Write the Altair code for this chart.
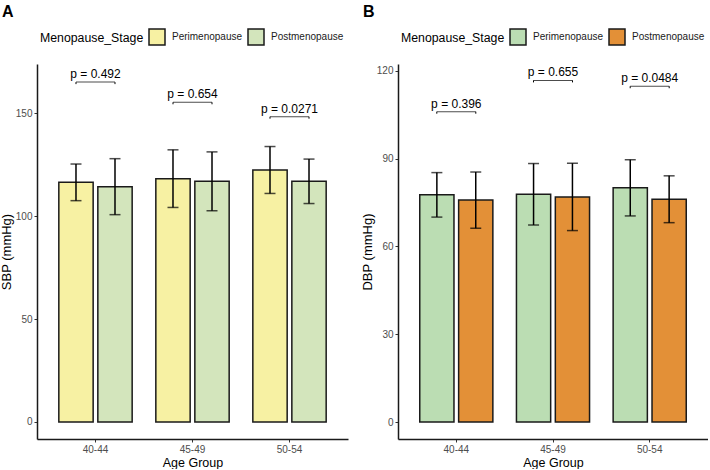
import altair as alt
import pandas as pd

age_groups = ["40-44", "45-49", "50-54"]
stages = ["Perimenopause", "Postmenopause"]

sbp_mean_peri = [116.4, 118.2, 122.4]
sbp_mean_post = [114.3, 116.9, 116.9]
sbp_sd_peri = [8.9, 14.0, 11.4]
sbp_sd_post = [13.6, 14.3, 10.8]

dbp_mean_peri = [77.6, 77.8, 80.0]
dbp_mean_post = [75.8, 76.9, 76.1]
dbp_sd_peri = [7.6, 10.5, 9.6]
dbp_sd_post = [9.6, 11.5, 8.0]

sbp_p_labels = ["p = 0.492", "p = 0.654", "p = 0.0271"]
sbp_p_y = [165.1, 155.3, 148.3]
dbp_p_labels = ["p = 0.396", "p = 0.655", "p = 0.0484"]
dbp_p_y = [106.0, 116.7, 114.7]

sbp_colors = ["#F7F1A3", "#D3E5BC"]
dbp_colors = ["#BBDDB3", "#E39037"]

FONT = "Liberation Sans"


def make_df(mp, mq, sp, sq):
    rows = []
    for i, g in enumerate(age_groups):
        for st, m, s in ((stages[0], mp[i], sp[i]), (stages[1], mq[i], sq[i])):
            rows.append({"Age": g, "Stage": st, "mean": m, "lo": m - s, "hi": m + s})
    return pd.DataFrame(rows)


def panel(df, pdf, colors, ytitle, ydomain, yticks, letter, width):
    xenc = alt.X("Age:N", title="Age Group", sort=age_groups,
                 scale=alt.Scale(paddingInner=0.244, paddingOuter=0.225),
                 axis=alt.Axis(labelAngle=0, labelPadding=2, titlePadding=2,
                               titleFontSize=12.5))
    xoff = alt.XOffset("Stage:N", sort=stages,
                       scale=alt.Scale(paddingInner=0.12, paddingOuter=0))
    yscale = alt.Scale(domain=ydomain, nice=False, zero=False)
    base = alt.Chart(df)
    bars = base.mark_bar(stroke="#1a1a1a", strokeWidth=1.5).encode(
        x=xenc,
        xOffset=xoff,
        y=alt.Y("mean:Q", title=ytitle, scale=yscale,
                axis=alt.Axis(values=yticks, grid=False)),
        fill=alt.Fill("Stage:N", sort=stages,
                      scale=alt.Scale(domain=stages, range=colors),
                      legend=alt.Legend(title="Menopause_Stage", orient="none",
                                        legendX=3, legendY=-36,
                                        direction="horizontal", titleOrient="left",
                                        symbolType="square", symbolSize=256,
                                        symbolStrokeColor="#1a1a1a",
                                        symbolStrokeWidth=1.5,
                                        labelFontSize=10, titleFontSize=12.3,
                                        titleFontWeight="normal",
                                        labelOffset=6, columnPadding=2,
                                        titlePadding=4, titleBaseline="middle",
                                        labelColor="#1a1a1a", titleColor="black")),
    )
    err = base.mark_rule(color="black", strokeWidth=1.5).encode(
        x=alt.X("Age:N", sort=age_groups),
        xOffset=xoff,
        y=alt.Y("lo:Q"),
        y2="hi:Q",
    )
    cap_hi = base.mark_tick(color="black", thickness=1.5, size=11,
                            orient="horizontal").encode(
        x=alt.X("Age:N", sort=age_groups), xOffset=xoff, y="hi:Q")
    cap_lo = base.mark_tick(color="black", thickness=1.5, size=11,
                            orient="horizontal").encode(
        x=alt.X("Age:N", sort=age_groups), xOffset=xoff, y="lo:Q")
    pbase = alt.Chart(pdf)
    bracket = pbase.mark_tick(color="black", thickness=1, size=39,
                              orient="horizontal").encode(
        x=alt.X("Age:N", sort=age_groups), y="py:Q")
    endl = pbase.mark_rule(color="black", strokeWidth=1, xOffset=-19.5,
                           y2Offset=2).encode(
        x=alt.X("Age:N", sort=age_groups), y="py:Q", y2="py:Q")
    endr = pbase.mark_rule(color="black", strokeWidth=1, xOffset=19.5,
                           y2Offset=2).encode(
        x=alt.X("Age:N", sort=age_groups), y="py:Q", y2="py:Q")
    ptext = pbase.mark_text(fontSize=12, font=FONT, color="black",
                            baseline="alphabetic", dy=-4).encode(
        x=alt.X("Age:N", sort=age_groups), y="py:Q", text="label:N")
    letter_mark = alt.Chart(pd.DataFrame({"t": [letter]})).mark_text(
        fontSize=16, fontWeight="bold", font=FONT, align="left",
        baseline="top", color="black").encode(
        x=alt.value(-35), y=alt.value(-60), text="t:N")
    return alt.layer(bars, err, cap_hi, cap_lo, bracket, endl, endr, ptext,
                     letter_mark).properties(width=width, height=375)


sbp_df = make_df(sbp_mean_peri, sbp_mean_post, sbp_sd_peri, sbp_sd_post)
dbp_df = make_df(dbp_mean_peri, dbp_mean_post, dbp_sd_peri, dbp_sd_post)
sbp_p = pd.DataFrame({"Age": age_groups, "label": sbp_p_labels, "py": sbp_p_y})
dbp_p = pd.DataFrame({"Age": age_groups, "label": dbp_p_labels, "py": dbp_p_y})

pa = panel(sbp_df, sbp_p, sbp_colors, "SBP (mmHg)", [-8.3, 173.9],
           [0, 50, 100, 150], "A", 311)
pb = panel(dbp_df, dbp_p, dbp_colors, "DBP (mmHg)", [-5.8, 122.3],
           [0, 30, 60, 90, 120], "B", 310)

chart = alt.hconcat(pa, pb, spacing=13).resolve_scale(
    fill="independent", x="independent", y="independent", xOffset="independent"
).resolve_legend(fill="independent").properties(
    padding={"left": 0, "top": 4, "right": 0, "bottom": 0}
).configure_view(stroke=None).configure_axis(
    labelFont=FONT, titleFont=FONT, labelFontSize=10, titleFontSize=13,
    titleFontWeight="normal", labelColor="#4D4D4D", titleColor="black",
    domainColor="#1a1a1a", domainWidth=1.5, tickColor="#333333",
    tickSize=3, tickWidth=1, labelPadding=2, titlePadding=2,
).configure_legend(labelFont=FONT, titleFont=FONT)

chart.save("out.html", embed_options={"renderer": "svg", "actions": False})
